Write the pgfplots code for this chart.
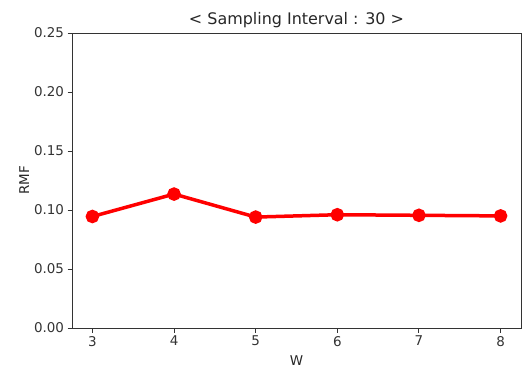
\documentclass[border=0pt]{standalone}
\usepackage{fontspec}
\setmainfont{DejaVu Sans}
\usepackage{pgfplots}
\pgfplotsset{compat=1.18}
\begin{document}
\begin{tikzpicture}
\begin{axis}[
  scale only axis,
  width=449bp, height=295bp,
  xmin=2.75, xmax=8.25,
  ymin=0, ymax=0.25,
  xtick={3,4,5,6,7,8},
  ytick={0,0.05,0.1,0.15,0.2,0.25},
  yticklabel style={/pgf/number format/.cd,fixed,fixed zerofill,precision=2},
  /pgf/number format/assume math mode=true,
  tick align=outside,
  tick pos=left,
  major tick length=4.5bp,
  tick style={black!80, line width=1pt},
  axis line style={black!80, line width=1pt},
  ticklabel style={font=\fontsize{13.5}{15}\selectfont, text=black!80},
  title={\textless{} Sampling Interval : 30 \textgreater{}},
  title style={font=\fontsize{16}{18}\selectfont, yshift=-4bp, text=black!85},
  xlabel={W},
  ylabel={RMF},
  xlabel style={yshift=-3bp},
  ylabel style={yshift=-2bp},
  label style={font=\fontsize{13.5}{15}\selectfont, text=black!85},
]
\addplot[red, line width=3.5bp, mark=*, mark size=5bp, mark options={fill=red, draw=red}]
coordinates {(3,0.0945) (4,0.1135) (5,0.094) (6,0.096) (7,0.0955) (8,0.095)};
\end{axis}
\path ([shift={(-72bp,-43bp)}]current axis.south west) rectangle ([shift={(8bp,33bp)}]current axis.north east);
\end{tikzpicture}
\end{document}
